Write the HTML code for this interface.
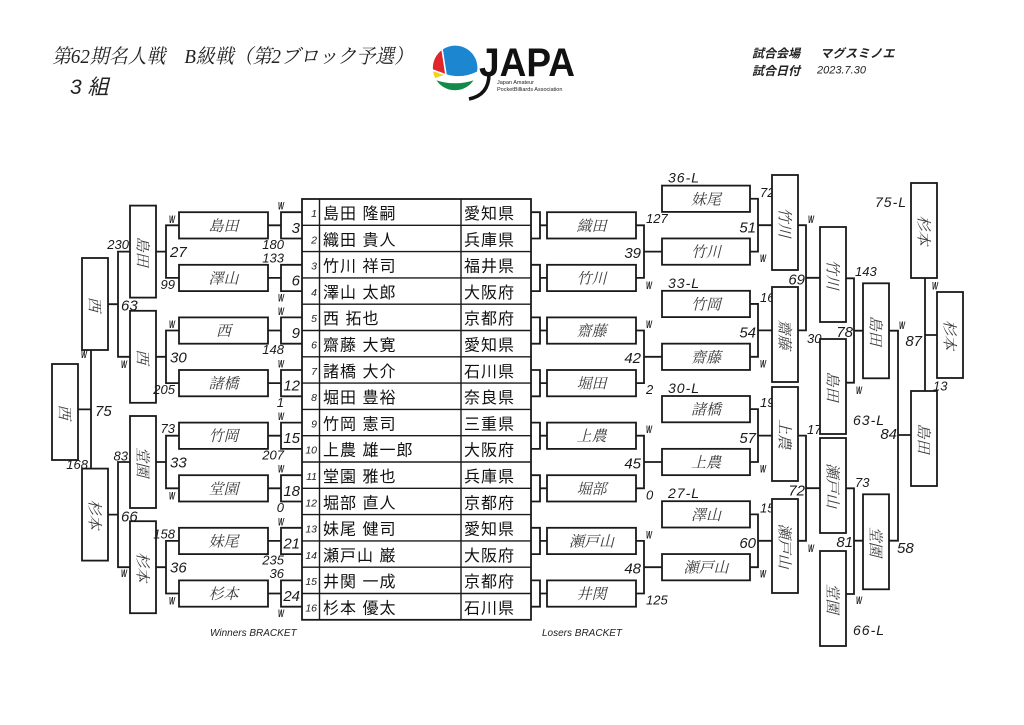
<!DOCTYPE html>
<html><head><meta charset="utf-8">
<style>
body{margin:0;background:#fff}
svg{display:block}
.L{fill:none;stroke:#1a1a1a;stroke-width:1.8}
.B{fill:#fff;stroke:#1a1a1a;stroke-width:1.8}
.T{fill:none;stroke:#1a1a1a;stroke-width:1.4}
.n{font-family:"Noto Serif CJK SC","Noto Sans CJK JP",serif;font-size:15px;font-style:italic;fill:#3a3a3a}
.s{font-family:"Liberation Sans Narrow","Liberation Sans",sans-serif;font-style:italic;font-size:15px;fill:#1a1a1a}
.m{font-family:"Liberation Sans Narrow","Liberation Sans",sans-serif;font-style:italic;font-size:13px;fill:#1a1a1a}
.w{font-family:"Liberation Sans Narrow","Liberation Sans",sans-serif;font-style:italic;font-weight:bold;font-size:11px;fill:#1a1a1a}
.dl{font-family:"Liberation Sans Narrow","Liberation Sans",sans-serif;font-style:italic;font-size:14px;letter-spacing:1px;fill:#1a1a1a}
.tn{font-family:"Liberation Sans","Noto Sans CJK JP",sans-serif;font-size:16px;letter-spacing:1px;fill:#111}
.no{font-family:"Liberation Sans",sans-serif;font-style:italic;font-size:10.5px;fill:#222}
.br{font-family:"Liberation Sans",sans-serif;font-style:italic;font-size:10px;fill:#222}
.hd{font-family:"Liberation Sans","Noto Sans CJK JP",sans-serif;font-style:italic;font-weight:bold;font-size:12px;fill:#222}
</style></head>
<body>
<svg width="1024" height="725" viewBox="0 0 1024 725" xmlns="http://www.w3.org/2000/svg">
<rect width="1024" height="725" fill="#fff"/>

<!-- Header -->
<text x="52" y="63" font-family="'Liberation Serif','Noto Serif CJK SC',serif" font-size="20" font-style="italic" fill="#222" textLength="361" lengthAdjust="spacingAndGlyphs">第62期名人戦　B級戦（第2ブロック予選）</text>
<text x="70" y="94" font-family="'Liberation Sans','Noto Sans CJK JP',sans-serif" font-size="21" font-style="italic" fill="#222">3 組</text>

<!-- Logo -->
<g stroke="#fff" stroke-width="1.5">
<path d="M434.8,79 A23 23 0 0 0 475.2,79 Q455,86 434.8,79 Z" fill="#13894a"/>
<path d="M442,49 A23 23 0 0 1 477.8,72 Q462,80 446,75 Z" fill="#1d86d0"/>
<path d="M442,49 L446,75 L432.2,70 A23 23 0 0 1 442,49 Z" fill="#e0262b"/>
<path d="M432.2,70 L446,75 L434.8,79 A23 23 0 0 1 432.2,70 Z" fill="#f3d21b"/>
</g>
<text x="479" y="76" font-family="'Liberation Sans Narrow','Liberation Sans',sans-serif" font-weight="bold" font-size="40" fill="#111" textLength="96" lengthAdjust="spacingAndGlyphs">JAPA</text>
<path d="M489,74 Q489,95 469,99" fill="none" stroke="#111" stroke-width="3.5"/>
<text x="497" y="84" font-family="'Liberation Sans',sans-serif" font-size="5.5" fill="#222">Japan Amateur</text>
<text x="497" y="91" font-family="'Liberation Sans',sans-serif" font-size="5.5" fill="#222">PocketBilliards Association</text>

<text x="752" y="57.5" class="hd">試合会場</text>
<text x="820" y="57.5" class="hd" letter-spacing="0.5">マグスミノエ</text>
<text x="752" y="75" class="hd">試合日付</text>
<text x="817" y="73.5" font-family="'Liberation Sans',sans-serif" font-style="italic" font-size="11" fill="#222">2023.7.30</text>

<!-- Table -->
<rect x="302" y="199" width="229" height="420.8" class="L"/>
<path class="T" d="M302,225.3H531M302,251.6H531M302,277.9H531M302,304.2H531M302,330.5H531M302,356.8H531M302,383.1H531M302,409.4H531M302,435.7H531M302,462H531M302,488.3H531M302,514.6H531M302,540.9H531M302,567.2H531M302,593.5H531M319.5,199V619.8M461,199V619.8"/>
<g class="no" text-anchor="end">
<text x="317" y="217">1</text><text x="317" y="243.3">2</text><text x="317" y="269.6">3</text><text x="317" y="295.9">4</text>
<text x="317" y="322.2">5</text><text x="317" y="348.5">6</text><text x="317" y="374.8">7</text><text x="317" y="401.1">8</text>
<text x="317" y="427.4">9</text><text x="317" y="453.7">10</text><text x="317" y="480">11</text><text x="317" y="506.3">12</text>
<text x="317" y="532.6">13</text><text x="317" y="558.9">14</text><text x="317" y="585.2">15</text><text x="317" y="611.5">16</text>
</g>
<g class="tn">
<text x="323" y="219">島田 隆嗣</text><text x="464" y="219">愛知県</text>
<text x="323" y="245.3">織田 貴人</text><text x="464" y="245.3">兵庫県</text>
<text x="323" y="271.6">竹川 祥司</text><text x="464" y="271.6">福井県</text>
<text x="323" y="297.9">澤山 太郎</text><text x="464" y="297.9">大阪府</text>
<text x="323" y="324.2">西 拓也</text><text x="464" y="324.2">京都府</text>
<text x="323" y="350.5">齋藤 大寛</text><text x="464" y="350.5">愛知県</text>
<text x="323" y="376.8">諸橋 大介</text><text x="464" y="376.8">石川県</text>
<text x="323" y="403.1">堀田 豊裕</text><text x="464" y="403.1">奈良県</text>
<text x="323" y="429.4">竹岡 憲司</text><text x="464" y="429.4">三重県</text>
<text x="323" y="455.7">上農 雄一郎</text><text x="464" y="455.7">大阪府</text>
<text x="323" y="482">堂園 雅也</text><text x="464" y="482">兵庫県</text>
<text x="323" y="508.3">堀部 直人</text><text x="464" y="508.3">京都府</text>
<text x="323" y="534.6">妹尾 健司</text><text x="464" y="534.6">愛知県</text>
<text x="323" y="560.9">瀬戸山 巌</text><text x="464" y="560.9">大阪府</text>
<text x="323" y="587.2">井関 一成</text><text x="464" y="587.2">京都府</text>
<text x="323" y="613.5">杉本 優太</text><text x="464" y="613.5">石川県</text>
</g>

<!-- Winners R1 -->
<path class="L" d="M302,212.2H281V238.5H302M268,225.3H281
M302,264.8H281V291.1H302M268,277.9H281
M302,317.4H281V343.7H302M268,330.5H281
M302,370H281V396.3H302M268,383.1H281
M302,422.6H281V448.9H302M268,435.7H281
M302,475.2H281V501.5H302M268,488.3H281
M302,527.8H281V554.1H302M268,540.9H281
M302,580.4H281V606.7H302M268,593.5H281"/>
<g class="B">
<rect x="179" y="212.2" width="89" height="26.3"/><rect x="179" y="264.8" width="89" height="26.3"/>
<rect x="179" y="317.4" width="89" height="26.3"/><rect x="179" y="370" width="89" height="26.3"/>
<rect x="179" y="422.6" width="89" height="26.3"/><rect x="179" y="475.2" width="89" height="26.3"/>
<rect x="179" y="527.8" width="89" height="26.3"/><rect x="179" y="580.4" width="89" height="26.3"/>
</g>
<g class="n" text-anchor="middle">
<text x="223.5" y="230.8">島田</text><text x="223.5" y="283.4">澤山</text><text x="223.5" y="336">西</text><text x="223.5" y="388.6">諸橋</text>
<text x="223.5" y="441.2">竹岡</text><text x="223.5" y="493.8">堂園</text><text x="223.5" y="546.4">妹尾</text><text x="223.5" y="599">杉本</text>
</g>
<g class="s" text-anchor="end">
<text x="300" y="232.8">3</text><text x="300" y="285.4">6</text><text x="300" y="338">9</text><text x="300" y="390.6">12</text>
<text x="300" y="443.2">15</text><text x="300" y="495.8">18</text><text x="300" y="548.4">21</text><text x="300" y="601">24</text>
</g>
<g text-anchor="end">
<text class="w" x="284" y="209.7" textLength="6" lengthAdjust="spacingAndGlyphs">W</text><text class="m" x="284" y="249">180</text>
<text class="m" x="284" y="262.3">133</text><text class="w" x="284" y="301.6" textLength="6" lengthAdjust="spacingAndGlyphs">W</text>
<text class="w" x="284" y="314.9" textLength="6" lengthAdjust="spacingAndGlyphs">W</text><text class="m" x="284" y="354.2">148</text>
<text class="w" x="284" y="367.5" textLength="6" lengthAdjust="spacingAndGlyphs">W</text><text class="m" x="284" y="406.8">1</text>
<text class="w" x="284" y="420.1" textLength="6" lengthAdjust="spacingAndGlyphs">W</text><text class="m" x="284" y="459.4">207</text>
<text class="w" x="284" y="472.7" textLength="6" lengthAdjust="spacingAndGlyphs">W</text><text class="m" x="284" y="512">0</text>
<text class="w" x="284" y="525.3" textLength="6" lengthAdjust="spacingAndGlyphs">W</text><text class="m" x="284" y="564.6">235</text>
<text class="m" x="284" y="577.9">36</text><text class="w" x="284" y="617.2" textLength="6" lengthAdjust="spacingAndGlyphs">W</text>
</g>

<!-- Winners R2 -->
<path class="L" d="M179,225.3H166V277.9H179M156,251.6H166
M179,330.5H166V383.1H179M156,356.8H166
M179,435.7H166V488.3H179M156,462H166
M179,540.9H166V593.5H179M156,567.2H166"/>
<g class="B">
<rect x="130" y="205.6" width="26" height="92"/><rect x="130" y="310.8" width="26" height="92"/>
<rect x="130" y="416" width="26" height="92"/><rect x="130" y="521.2" width="26" height="92"/>
</g>
<g class="n" text-anchor="middle">
<text transform="translate(143,251.6) rotate(90)" y="5.5">島田</text>
<text transform="translate(143,356.8) rotate(90)" y="5.5">西</text>
<text transform="translate(143,462) rotate(90)" y="5.5">堂園</text>
<text transform="translate(143,567.2) rotate(90)" y="5.5">杉本</text>
</g>
<g class="s">
<text x="170" y="257.1">27</text><text x="170" y="362.3">30</text><text x="170" y="467.5">33</text><text x="170" y="572.7">36</text>
</g>
<g text-anchor="end">
<text class="w" x="175" y="222.8" textLength="6" lengthAdjust="spacingAndGlyphs">W</text><text class="m" x="175" y="288.9">99</text>
<text class="w" x="175" y="328" textLength="6" lengthAdjust="spacingAndGlyphs">W</text><text class="m" x="175" y="394.1">205</text>
<text class="m" x="175" y="433.2">73</text><text class="w" x="175" y="499.3" textLength="6" lengthAdjust="spacingAndGlyphs">W</text>
<text class="m" x="175" y="538.4">158</text><text class="w" x="175" y="604.5" textLength="6" lengthAdjust="spacingAndGlyphs">W</text>
</g>

<!-- Winners R3 -->
<path class="L" d="M130,251.6H118V356.8H130M108,304.2H118M130,462H118V567.2H130M108,514.6H118"/>
<rect class="B" x="82" y="258" width="26" height="92"/>
<rect class="B" x="82" y="468.6" width="26" height="92"/>
<g class="n" text-anchor="middle">
<text transform="translate(95,304.2) rotate(90)" y="5.5">西</text>
<text transform="translate(95,514.6) rotate(90)" y="5.5">杉本</text>
</g>
<text class="m" x="129" y="249" text-anchor="end">230</text>
<text class="s" x="121" y="310.5">63</text>
<text class="w" x="127" y="368" text-anchor="end" textLength="6" lengthAdjust="spacingAndGlyphs">W</text>
<text class="m" x="128" y="460.5" text-anchor="end">83</text>
<text class="s" x="121" y="521.5">66</text>
<text class="w" x="127" y="577" text-anchor="end" textLength="6" lengthAdjust="spacingAndGlyphs">W</text>

<!-- Winners Final -->
<path class="L" d="M91,350V468.6M78,409.4H91"/>
<rect class="B" x="52" y="364" width="26" height="96"/>
<text class="n" text-anchor="middle" transform="translate(65,412) rotate(90)" y="5.5">西</text>
<text class="w" x="87" y="358" text-anchor="end" textLength="6" lengthAdjust="spacingAndGlyphs">W</text>
<text class="s" x="95" y="416">75</text>
<text class="m" x="88" y="469" text-anchor="end">168</text>

<text class="br" x="210" y="636">Winners BRACKET</text>
<text class="br" x="542" y="636">Losers BRACKET</text>

<!-- Losers R1 -->
<path class="L" d="M531,212.2H540V238.5H531M540,225.3H547
M531,264.8H540V291.1H531M540,277.9H547
M531,317.4H540V343.7H531M540,330.5H547
M531,370H540V396.3H531M540,383.1H547
M531,422.6H540V448.9H531M540,435.7H547
M531,475.2H540V501.5H531M540,488.3H547
M531,527.8H540V554.1H531M540,540.9H547
M531,580.4H540V606.7H531M540,593.5H547"/>
<g class="B">
<rect x="547" y="212.2" width="89" height="26.3"/><rect x="547" y="264.8" width="89" height="26.3"/>
<rect x="547" y="317.4" width="89" height="26.3"/><rect x="547" y="370" width="89" height="26.3"/>
<rect x="547" y="422.6" width="89" height="26.3"/><rect x="547" y="475.2" width="89" height="26.3"/>
<rect x="547" y="527.8" width="89" height="26.3"/><rect x="547" y="580.4" width="89" height="26.3"/>
</g>
<g class="n" text-anchor="middle">
<text x="591.5" y="230.8">織田</text><text x="591.5" y="283.4">竹川</text><text x="591.5" y="336">齋藤</text><text x="591.5" y="388.6">堀田</text>
<text x="591.5" y="441.2">上農</text><text x="591.5" y="493.8">堀部</text><text x="591.5" y="546.4">瀬戸山</text><text x="591.5" y="599">井関</text>
</g>

<!-- Losers R1 brackets -->
<path class="L" d="M636,225.3H644V277.9H636M644,251.6H662
M636,330.5H644V383.1H636M644,356.8H662
M636,435.7H644V488.3H636M644,462H662
M636,540.9H644V593.5H636M644,567.2H662"/>
<text class="m" x="646" y="222.8">127</text><text class="w" x="646" y="288.9" textLength="6" lengthAdjust="spacingAndGlyphs">W</text>
<text class="w" x="646" y="328" textLength="6" lengthAdjust="spacingAndGlyphs">W</text><text class="m" x="646" y="394.1">2</text>
<text class="w" x="646" y="433.2" textLength="6" lengthAdjust="spacingAndGlyphs">W</text><text class="m" x="646" y="499.3">0</text>
<text class="w" x="646" y="538.4" textLength="6" lengthAdjust="spacingAndGlyphs">W</text><text class="m" x="646" y="604.5">125</text>
<g class="s" text-anchor="end">
<text x="641" y="258">39</text><text x="641" y="363.2">42</text><text x="641" y="468.4">45</text><text x="641" y="573.6">48</text>
</g>

<!-- Losers R2 -->
<g class="dl">
<text x="668" y="182.6">36-L</text><text x="668" y="287.8">33-L</text><text x="668" y="393">30-L</text><text x="668" y="498.2">27-L</text>
</g>
<path class="L" d="M750,198.75H758V251.6H750M758,225.2H772
M750,303.95H758V356.8H750M758,330.4H772
M750,409.15H758V462H750M758,435.6H772
M750,514.35H758V567.2H750M758,540.8H772"/>
<text class="m" x="760" y="197">72</text><text class="w" x="760" y="262" textLength="6" lengthAdjust="spacingAndGlyphs">W</text>
<text class="m" x="760" y="302">168</text><text class="w" x="760" y="367.3" textLength="6" lengthAdjust="spacingAndGlyphs">W</text>
<text class="m" x="760" y="407.2">196</text><text class="w" x="760" y="472.5" textLength="6" lengthAdjust="spacingAndGlyphs">W</text>
<text class="m" x="760" y="512.4">159</text><text class="w" x="760" y="577.7" textLength="6" lengthAdjust="spacingAndGlyphs">W</text>
<g class="s" text-anchor="end">
<text x="756" y="232.5">51</text><text x="756" y="337.5">54</text><text x="756" y="442.9">57</text><text x="756" y="548.1">60</text>
</g>
<g class="B">
<rect x="662" y="185.6" width="88" height="26.3"/><rect x="662" y="238.45" width="88" height="26.3"/>
<rect x="662" y="290.8" width="88" height="26.3"/><rect x="662" y="343.65" width="88" height="26.3"/>
<rect x="662" y="396" width="88" height="26.3"/><rect x="662" y="448.85" width="88" height="26.3"/>
<rect x="662" y="501.2" width="88" height="26.3"/><rect x="662" y="554.05" width="88" height="26.3"/>
</g>
<g class="n" text-anchor="middle">
<text x="706" y="204.3">妹尾</text><text x="706" y="257.1">竹川</text>
<text x="706" y="309.5">竹岡</text><text x="706" y="362.3">齋藤</text>
<text x="706" y="414.7">諸橋</text><text x="706" y="467.5">上農</text>
<text x="706" y="519.9">澤山</text><text x="706" y="572.7">瀬戸山</text>
</g>

<!-- Losers R3 -->
<g class="B">
<rect x="772" y="175" width="26" height="95"/><rect x="772" y="287" width="26" height="95"/>
<rect x="772" y="387" width="26" height="94"/><rect x="772" y="499" width="26" height="94"/>
</g>
<g class="n" text-anchor="middle">
<text transform="translate(785,222.5) rotate(90)" y="5.5">竹川</text>
<text transform="translate(785,334.5) rotate(90)" y="5.5">齋藤</text>
<text transform="translate(785,434) rotate(90)" y="5.5">上農</text>
<text transform="translate(785,546) rotate(90)" y="5.5">瀬戸山</text>
</g>

<!-- Losers R4 -->
<path class="L" d="M798,225.2H806V330.4H798M806,277.8H820M798,435.6H806V540.8H798M806,488.2H820"/>
<text class="w" x="808" y="223" textLength="6" lengthAdjust="spacingAndGlyphs">W</text>
<text class="s" x="805" y="284.5" text-anchor="end">69</text>
<text class="m" x="807" y="343">30</text>
<text class="m" x="807" y="434">17</text>
<text class="s" x="805" y="495.5" text-anchor="end">72</text>
<text class="w" x="808" y="552" textLength="6" lengthAdjust="spacingAndGlyphs">W</text>
<g class="B">
<rect x="820" y="227" width="26" height="95"/><rect x="820" y="438" width="26" height="95"/>
<rect x="820" y="339" width="26" height="95"/><rect x="820" y="551" width="26" height="95"/>
</g>
<g class="n" text-anchor="middle">
<text transform="translate(833,274.5) rotate(90)" y="5.5">竹川</text>
<text transform="translate(833,485.5) rotate(90)" y="5.5">瀬戸山</text>
<text transform="translate(833,386.5) rotate(90)" y="5.5">島田</text>
<text transform="translate(833,598.5) rotate(90)" y="5.5">堂園</text>
</g>
<text class="dl" x="853" y="425">63-L</text>
<text class="dl" x="853" y="635">66-L</text>

<!-- Losers R5 -->
<path class="L" d="M846,278.3H854V382.7H846M854,330.7H863M846,488.3H854V594H846M854,540.7H863"/>
<text class="m" x="855" y="276">143</text>
<text class="s" x="853" y="337" text-anchor="end">78</text>
<text class="w" x="856" y="394" textLength="6" lengthAdjust="spacingAndGlyphs">W</text>
<text class="m" x="855" y="487">73</text>
<text class="s" x="853" y="547" text-anchor="end">81</text>
<text class="w" x="856" y="604" textLength="6" lengthAdjust="spacingAndGlyphs">W</text>
<g class="B">
<rect x="863" y="283.3" width="26" height="95"/><rect x="863" y="494.3" width="26" height="95"/>
</g>
<g class="n" text-anchor="middle">
<text transform="translate(876,330.8) rotate(90)" y="5.5">島田</text>
<text transform="translate(876,541.8) rotate(90)" y="5.5">堂園</text>
</g>

<!-- Losers R6 -->
<path class="L" d="M889,330.7H898V540.7H889M898,435H911"/>
<text class="w" x="899" y="329" textLength="6" lengthAdjust="spacingAndGlyphs">W</text>
<text class="s" x="897" y="439" text-anchor="end">84</text>
<text class="s" x="897" y="553">58</text>
<rect class="B" x="911" y="391" width="26" height="95"/>
<text class="n" text-anchor="middle" transform="translate(924,438.5) rotate(90)" y="5.5">島田</text>

<!-- Final -->
<text class="dl" x="875" y="207">75-L</text>
<path class="L" d="M925,278V391M925,335H937"/>
<rect class="B" x="911" y="183" width="26" height="95"/>
<text class="n" text-anchor="middle" transform="translate(924,230.5) rotate(90)" y="5.5">杉本</text>
<rect class="B" x="937" y="292" width="26" height="86"/>
<text class="n" text-anchor="middle" transform="translate(950,335) rotate(90)" y="5.5">杉本</text>
<text class="w" x="932" y="289.5" textLength="6" lengthAdjust="spacingAndGlyphs">W</text>
<text class="s" x="922" y="346" text-anchor="end">87</text>
<text class="m" x="933" y="390.5">13</text>
</svg>
</body></html>
